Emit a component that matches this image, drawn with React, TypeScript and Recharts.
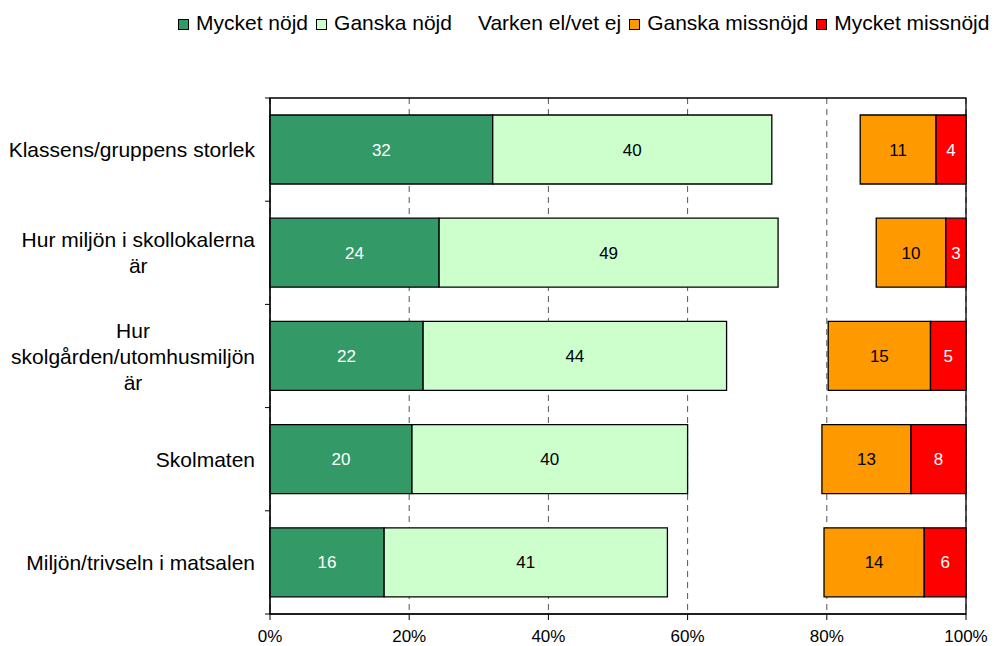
import React from "react";
import {
  BarChart,
  Bar,
  XAxis,
  YAxis,
  CartesianGrid,
  ReferenceArea,
  Legend,
  LabelList,
} from "recharts";

const categories = [
  "Klassens/gruppens storlek",
  "Hur miljön i skollokalerna\när",
  "Hur\nskolgården/utomhusmiljön\när",
  "Skolmaten",
  "Miljön/trivseln i matsalen",
];

const mycketNojd = [32.0, 24.3, 22.0, 20.4, 16.4];
const ganskaNojd = [40.1, 48.7, 43.6, 39.6, 40.7];
const varken = [12.7, 14.1, 14.6, 19.3, 22.5];
const ganskaMissnojd = [10.9, 10.0, 14.7, 12.8, 14.4];
const mycketMissnojd = [4.3, 2.9, 5.1, 7.9, 6.0];

const xTicks = [0, 0.2, 0.4, 0.6, 0.8, 1];

const series = [
  { key: "mycketNojd", name: "Mycket nöjd", fill: "#339966", text: "#ffffff" },
  { key: "ganskaNojd", name: "Ganska nöjd", fill: "#ccffcc", text: "#000000" },
  { key: "varken", name: "Varken el/vet ej", fill: "none", text: "" },
  { key: "ganskaMissnojd", name: "Ganska missnöjd", fill: "#ff9900", text: "#000000" },
  { key: "mycketMissnojd", name: "Mycket missnöjd", fill: "#ff0000", text: "#ffffff" },
];

const data = categories.map((name, i) => ({
  name,
  mycketNojd: mycketNojd[i],
  ganskaNojd: ganskaNojd[i],
  varken: varken[i],
  ganskaMissnojd: ganskaMissnojd[i],
  mycketMissnojd: mycketMissnojd[i],
}));

const FONT = "'Liberation Sans', Arial, sans-serif";
const CAT_SIZE = 21;
const LINE_H = 26;

let measureCtx: CanvasRenderingContext2D | null = null;
function textWidth(s: string) {
  if (!measureCtx) {
    measureCtx = document.createElement("canvas").getContext("2d");
  }
  if (!measureCtx) return s.length * CAT_SIZE * 0.5;
  measureCtx.font = `${CAT_SIZE}px ${FONT}`;
  return measureCtx.measureText(s).width;
}

function CategoryTick(props: any) {
  const { x, y, payload, index, visibleTicksCount } = props;
  const half = payload.offset || 51.6;
  const axisX = x + 15;
  const lines = String(payload.value).split("\n");
  const maxW = Math.max(...lines.map(textWidth));
  const cx = x - maxW / 2;
  const last = index === (visibleTicksCount ?? categories.length) - 1;
  return (
    <g>
      <line x1={axisX - 5} x2={axisX} y1={y - half} y2={y - half} stroke="#000" />
      {last && (
        <line x1={axisX - 5} x2={axisX} y1={y + half} y2={y + half} stroke="#000" />
      )}
      {lines.map((l, i) => (
        <text
          key={i}
          x={cx}
          y={y + (i - (lines.length - 1) / 2) * LINE_H}
          textAnchor="middle"
          dominantBaseline="central"
          fontSize={CAT_SIZE}
          fontFamily={FONT}
          fill="#000"
        >
          {l}
        </text>
      ))}
    </g>
  );
}

function LegendContent() {
  return (
    <div
      style={{
        display: "flex",
        alignItems: "center",
        fontSize: CAT_SIZE,
        fontFamily: FONT,
        whiteSpace: "nowrap",
        color: "#000",
      }}
    >
      {series.map((s) => (
        <span
          key={s.key}
          style={{ display: "flex", alignItems: "center", marginRight: 8, flexShrink: 0 }}
        >
          <span
            style={{
              display: "inline-block",
              width: 9,
              height: 9,
              marginTop: 2,
              marginRight: 7,
              background: s.fill === "none" ? "transparent" : s.fill,
              border: s.fill === "none" ? "1px solid transparent" : "1px solid #000",
            }}
          />
          {s.name}
        </span>
      ))}
    </div>
  );
}

export default function App() {
  return (
    <div style={{ position: "absolute", left: 0, top: 0, fontFamily: FONT }}>
      <BarChart
        width={996}
        height={646}
        data={data}
        layout="vertical"
        stackOffset="expand"
        barSize={69}
        margin={{ top: 98, right: 30, bottom: 0, left: 0 }}
      >
        <CartesianGrid horizontal={false} stroke="#555" strokeDasharray="6 5" />
        <XAxis
          type="number"
          domain={[0, 1]}
          ticks={xTicks}
          height={32}
          tickFormatter={(v: number) => `${Math.round(v * 100)}%`}
          axisLine={{ stroke: "#000" }}
          tickLine={{ stroke: "#000" }}
          tickSize={6}
          tickMargin={10}
          tick={{ fill: "#000", fontSize: 17, fontFamily: FONT }}
        />
        <YAxis
          type="category"
          dataKey="name"
          width={270}
          axisLine={{ stroke: "#000" }}
          tickLine={false}
          tickSize={0}
          tickMargin={15}
          interval={0}
          tick={<CategoryTick />}
        />
        <Legend
          layout="horizontal"
          verticalAlign="middle"
          align="center"
          wrapperStyle={{ top: 11, left: 178, width: 818, height: "auto" }}
          content={<LegendContent />}
        />
        {series.map((s) => (
          <Bar
            key={s.key}
            dataKey={s.key}
            name={s.name}
            stackId="a"
            fill={s.fill}
            stroke={s.fill === "none" ? "none" : "#000"}
            strokeWidth={1.3}
            isAnimationActive={false}
          >
            {s.text && (
              <LabelList
                dataKey={s.key}
                position="center"
                fill={s.text}
                fontSize={17}
                fontFamily={FONT}
                formatter={(v: any) => Math.round(Number(v))}
              />
            )}
          </Bar>
        ))}
        <ReferenceArea x1={0} x2={1} fill="none" stroke="#000" strokeWidth={1.3} ifOverflow="visible" />
      </BarChart>
    </div>
  );
}
